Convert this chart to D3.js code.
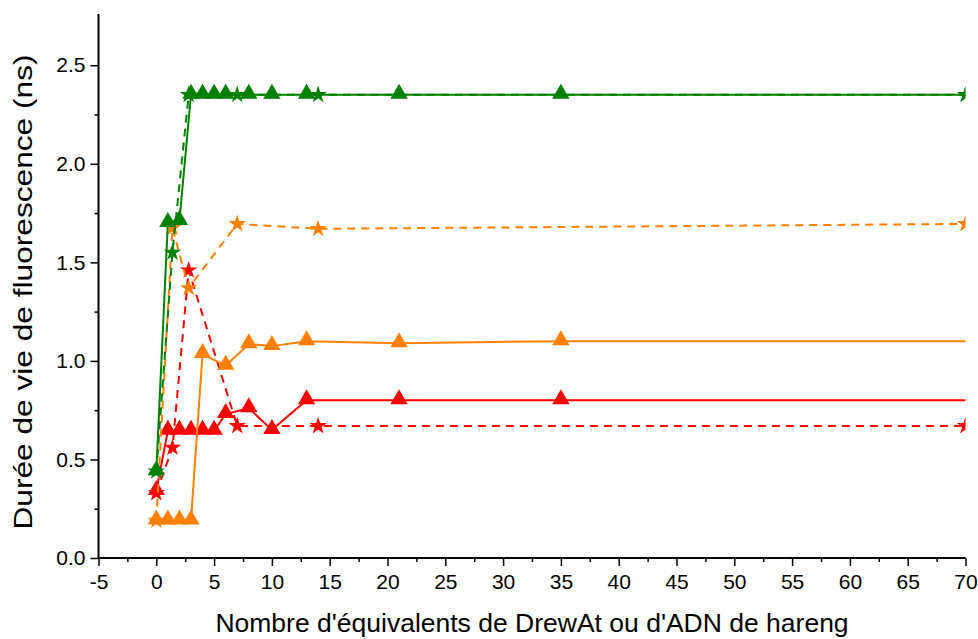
<!DOCTYPE html>
<html><head><meta charset="utf-8">
<script src="https://cdn.jsdelivr.net/npm/d3@7"></script>
<style>body{margin:0;background:#fff}svg{display:block;font-family:"Liberation Sans",Arial,sans-serif}</style>
</head><body><svg id="c" width="978" height="639"></svg>
<script>
// Data
const xTri = [0, 1, 2, 3, 4, 5, 6, 8, 10, 13, 21, 35, 105];
const xOrangeTri = [0, 1, 2, 3, 4, 6, 8, 10, 13, 21, 35, 105];
const xStar = [0, 1.4, 2.8, 7, 14, 70];
const greenTri = [0.44, 1.70, 1.71, 2.35, 2.35, 2.35, 2.35, 2.35, 2.35, 2.35, 2.35, 2.35, 2.35];
const greenStar = [0.44, 1.55, 2.35, 2.35, 2.35, 2.35];
const orangeTri = [0.19, 0.19, 0.19, 0.19, 1.035, 0.975, 1.085, 1.075, 1.10, 1.09, 1.10, 1.10];
const orangeStar = [0.19, 1.675, 1.37, 1.695, 1.67, 1.695];
const redTri = [0.34, 0.645, 0.645, 0.645, 0.645, 0.645, 0.73, 0.76, 0.65, 0.80, 0.80, 0.80, 0.80];
const redStar = [0.33, 0.56, 1.46, 0.67, 0.67, 0.67];
const xTicks = [-5,0,5,10,15,20,25,30,35,40,45,50,55,60,65,70];
const xMinor = [-2.5,2.5,7.5,12.5,17.5,22.5,27.5,32.5,37.5,42.5,47.5,52.5,57.5,62.5,67.5];
const yTicks = [0,0.5,1.0,1.5,2.0,2.5];
const yMinor = [0.25,0.75,1.25,1.75,2.25];
const xTitle = "Nombre d'équivalents de DrewAt ou d'ADN de hareng";
const yTitle = "Durée de vie de fluorescence (ns)";
</script>
<script>
const svg = d3.select("#c");
const L = 98.5, R = 965.5, T = 14, B = 558;
const x = d3.scaleLinear().domain([-5, 70]).range([L, R]);
const y = d3.scaleLinear().domain([0, 2.76]).range([B, T]);

svg.append("clipPath").attr("id","clip").append("rect")
  .attr("x", L).attr("y", 0).attr("width", R - L).attr("height", B + 20);

const g = svg.append("g").attr("clip-path","url(#clip)");

const series = [
  {xs: xTri, ys: redTri, color: "#ff0000", dash: null, sym: d3.symbolTriangle},
  {xs: xStar, ys: redStar, color: "#ff0000", dash: "8,6", sym: d3.symbolStar},
  {xs: xOrangeTri, ys: orangeTri, color: "#ff8000", dash: null, sym: d3.symbolTriangle},
  {xs: xStar, ys: orangeStar, color: "#ff8000", dash: "8,6", sym: d3.symbolStar},
  {xs: xTri, ys: greenTri, color: "#008000", dash: null, sym: d3.symbolTriangle},
  {xs: xStar, ys: greenStar, color: "#008000", dash: "8,6", sym: d3.symbolStar},
];

const line = d3.line().x(d => x(d[0])).y(d => y(d[1]));
series.forEach(s => {
  const pts = s.xs.map((v, i) => [v, s.ys[i]]);
  g.append("path").datum(pts).attr("d", line)
    .attr("fill","none").attr("stroke", s.color).attr("stroke-width", 2)
    .attr("stroke-dasharray", s.dash);
  const isTri = s.sym === d3.symbolTriangle;
  g.selectAll(null).data(pts).enter().append("path")
    .attr("d", d3.symbol().type(s.sym).size(isTri ? 130 : 95))
    .attr("transform", d => `translate(${x(d[0])},${y(d[1]) + (isTri ? -1 : 0)})`)
    .attr("fill", s.color);
});

// Axes
const xAxis = svg.append("g").attr("transform", `translate(0,${B})`)
  .call(d3.axisBottom(x).tickValues(xTicks).tickFormat(d3.format("d")).tickSize(8).tickPadding(8));
svg.append("g").attr("transform", `translate(0,${B})`)
  .call(d3.axisBottom(x).tickValues(xMinor).tickFormat("").tickSize(4))
  .select(".domain").remove();
const yAxis = svg.append("g").attr("transform", `translate(${L},0)`)
  .call(d3.axisLeft(y).tickValues(yTicks).tickFormat(d3.format(".1f")).tickSize(8).tickPadding(5));
svg.append("g").attr("transform", `translate(${L},0)`)
  .call(d3.axisLeft(y).tickValues(yMinor).tickFormat("").tickSize(4))
  .select(".domain").remove();

xAxis.select(".domain").attr("d", `M${L},0H${R}`);
yAxis.select(".domain").attr("d", `M0,${B}V${T}`);
svg.selectAll(".domain").attr("stroke","#000").attr("stroke-width",2);
svg.selectAll(".tick line").attr("stroke","#000").attr("stroke-width",1.5);
svg.selectAll(".tick text").attr("font-size", 21).attr("fill","#000")
  .attr("font-family", "'Liberation Sans', Arial, sans-serif");
xAxis.selectAll(".tick text").text(d => d < 0 ? "-" + Math.abs(d) : d);

svg.append("text").attr("x", (L + R) / 2).attr("y", 632).attr("text-anchor","middle")
  .attr("font-size", 26.5).attr("font-family", "'Liberation Sans', Arial, sans-serif").text(xTitle);
svg.append("text").attr("transform", `translate(32,292) rotate(-90)`)
  .attr("text-anchor","middle").attr("font-size", 26.5)
  .attr("font-family", "'Liberation Sans', Arial, sans-serif")
  .attr("textLength", 475).attr("lengthAdjust", "spacingAndGlyphs").text(yTitle);
</script>
</body></html>
